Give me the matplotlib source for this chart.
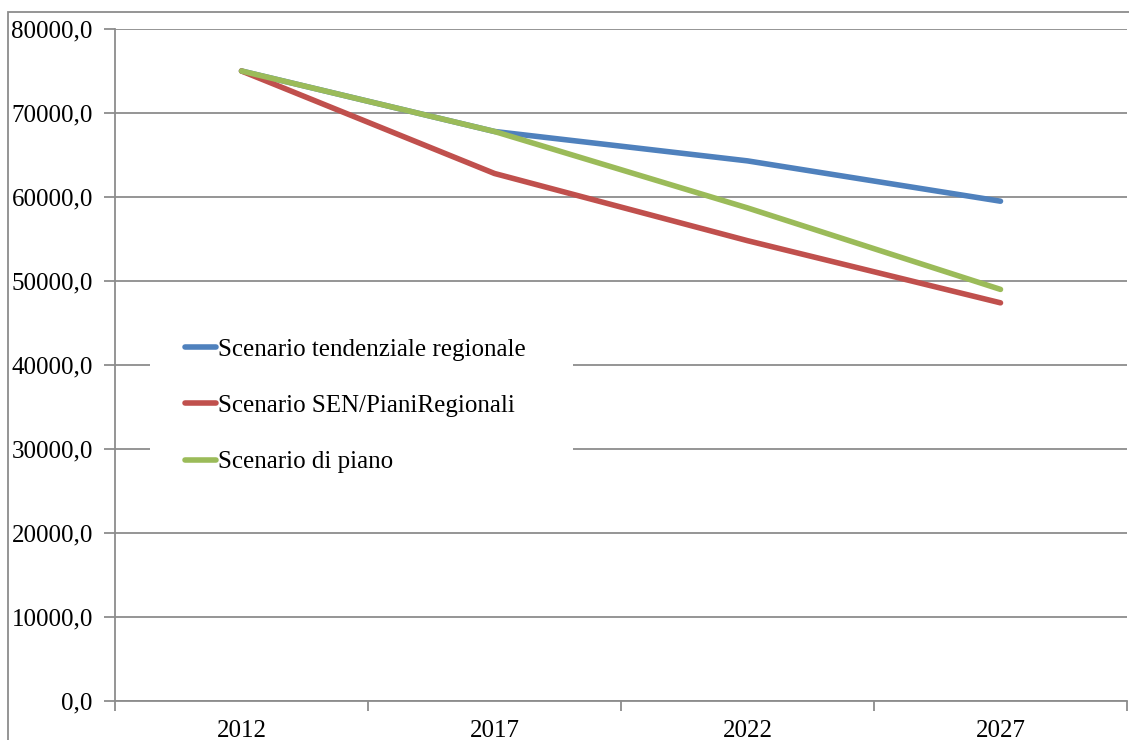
import matplotlib
matplotlib.use("Agg")
import matplotlib.pyplot as plt
from matplotlib.patches import Rectangle
from matplotlib.ticker import FuncFormatter, MultipleLocator
import numpy as np

# ---------- data -------------------------------------------------------------
years = ["2012", "2017", "2022", "2027"]
tendenziale = [75000, 67800, 64300, 59500]
sen_piani = [75000, 62800, 54800, 47400]
piano = [75000, 67800, 58700, 49000]

labels = ["Scenario tendenziale regionale",
          "Scenario SEN/PianiRegionali",
          "Scenario di piano"]
colors = ["#4F81BD", "#C0504D", "#9BBB59"]

# ---------- figure -----------------------------------------------------------
plt.rcParams["font.family"] = ["Liberation Serif", "DejaVu Serif"]
grey = "#8c8c8c"

fig = plt.figure(figsize=(11.29, 7.40), dpi=100)
ax = fig.add_axes([115 / 1129, 1 - 701 / 740, 1012 / 1129, 672 / 740])

x = np.arange(len(years))
for vals, lab, c in zip([tendenziale, sen_piani, piano], labels, colors):
    ax.plot(x, vals, color=c, lw=4, label=lab, solid_capstyle="round")

ax.set_xlim(-0.5, len(years) - 0.5)
ax.set_ylim(0, 80000)
ax.yaxis.set_major_locator(MultipleLocator(10000))
ax.yaxis.set_major_formatter(FuncFormatter(lambda v, _: f"{v:.1f}".replace(".", ",")))
ax.grid(axis="y", color=grey, lw=1.3)
ax.set_axisbelow(True)

ax.set_xticks(x)
ax.set_xticklabels(years)
ax.set_xticks(np.arange(-0.5, len(years)), minor=True)
ax.tick_params(axis="x", which="major", length=0, pad=14, labelsize=18)
ax.tick_params(axis="x", which="minor", length=7, width=1.3, color=grey)
ax.tick_params(axis="y", length=8, width=1.3, color=grey, labelsize=18, pad=8)

for s in ["top", "right"]:
    ax.spines[s].set_visible(False)
for s in ["left", "bottom"]:
    ax.spines[s].set_color(grey)
    ax.spines[s].set_linewidth(1.3)

leg = ax.legend(loc="upper left",
                bbox_to_anchor=(35 / 1012, 1 - 308 / 672, 423 / 1012, 0.05),
                mode="expand", frameon=True, fancybox=False, fontsize=18,
                handlelength=1.25, handletextpad=0.05, labelspacing=1.35,
                borderpad=1.4, borderaxespad=0)
leg.get_frame().set_facecolor("white")
leg.get_frame().set_edgecolor("none")
leg.get_frame().set_alpha(1)

# outer chart border
fig.patches.append(Rectangle((8 / 1129, -0.05), 1.2, 1.05 - 12 / 740,
                             transform=fig.transFigure, fill=False,
                             edgecolor=grey, lw=1.3))

fig.savefig("out.png", dpi=100)
